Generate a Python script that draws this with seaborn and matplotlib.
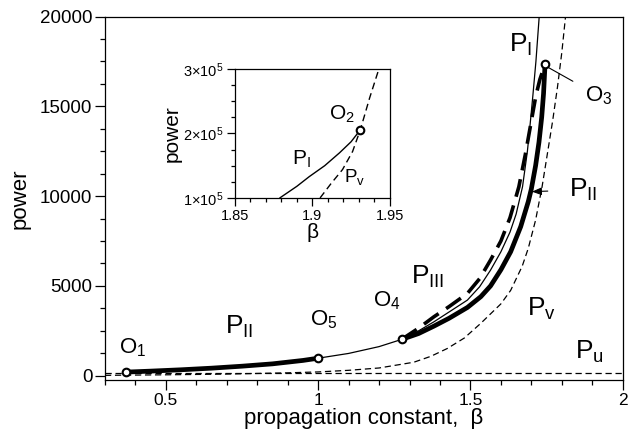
import numpy as np
import pandas as pd
import matplotlib
matplotlib.use('Agg')
import matplotlib.pyplot as plt
from matplotlib.ticker import MultipleLocator, FixedLocator
import seaborn as sns

sns.set_style('ticks')
plt.rcParams['font.family'] = ['Liberation Sans', 'DejaVu Sans']
plt.rcParams['mathtext.fontset'] = 'custom'
plt.rcParams['mathtext.rm'] = 'Liberation Sans'
plt.rcParams['mathtext.it'] = 'Liberation Sans:italic'
for key in ['text.color', 'axes.labelcolor', 'xtick.color', 'ytick.color', 'axes.edgecolor']:
    plt.rcParams[key] = 'black'

# P_I branch (thin solid)
beta_I = [0.368, 0.45, 0.55, 0.65, 0.75, 0.85, 0.95, 1.0, 1.1, 1.2, 1.274, 1.33, 1.38,
          1.43, 1.49, 1.53, 1.566, 1.60, 1.63, 1.65, 1.671, 1.687, 1.696, 1.705, 1.715,
          1.725, 1.728]
power_I = [200, 255, 330, 420, 530, 660, 850, 975, 1240, 1620, 2020, 2500, 3000,
           3550, 4210, 4950, 5880, 6900, 8000, 9000, 10520, 12500, 14000, 15600, 17500,
           19815, 20600]

# P_II thick solid, lower part O1 -> O5
beta_IIa = [0.368, 0.45, 0.55, 0.65, 0.75, 0.85, 0.95, 1.0]
power_IIa = [200, 255, 330, 420, 530, 660, 850, 975]

# P_II thick solid, upper part O4 -> O3
beta_IIb = [1.274, 1.33, 1.38, 1.43, 1.49, 1.534, 1.566, 1.60, 1.632, 1.665, 1.69,
            1.70, 1.714, 1.725, 1.734, 1.740, 1.745]
power_IIb = [2020, 2350, 2760, 3200, 3800, 4400, 5000, 5900, 6900, 8300, 9700,
             10400, 11700, 13000, 14400, 15700, 17350]

# P_III thick dashed O4 -> O3
beta_III = [1.274, 1.33, 1.38, 1.43, 1.49, 1.53, 1.566, 1.60, 1.63, 1.659, 1.68,
            1.698, 1.715, 1.728, 1.738, 1.745]
power_III = [2020, 2650, 3280, 3850, 4580, 5400, 6440, 7500, 8800, 10520, 12300,
             14000, 15600, 16500, 17000, 17350]

# P_v thin dashed
beta_v = [0.3, 0.5, 0.7, 0.9, 1.0, 1.1, 1.2, 1.314, 1.37, 1.424, 1.48, 1.5335, 1.6,
          1.632, 1.67, 1.69, 1.714, 1.735, 1.753, 1.77, 1.786, 1.80, 1.811, 1.815]
power_v = [20, 50, 90, 160, 210, 300, 430, 750, 1080, 1515, 2100, 2910, 4000,
           4750, 6100, 7100, 8670, 10500, 12400, 14200, 16100, 18000, 19800, 20500]

# P_u constant level
beta_u = [0.3, 2.0]
power_u = [130, 130]

# special points O1, O5, O4, O3
beta_O = [0.368, 1.0, 1.274, 1.745]
power_O = [200, 975, 2020, 17350]

# inset curves
beta_in_I = [1.879, 1.89, 1.898, 1.908, 1.9176, 1.925, 1.931]
power_in_I = [1.0e5, 1.18e5, 1.33e5, 1.5e5, 1.70e5, 1.87e5, 2.056e5]
beta_in_v = [1.905, 1.912, 1.9195, 1.926, 1.931, 1.937, 1.943, 1.946]
power_in_v = [1.0e5, 1.22e5, 1.44e5, 1.72e5, 2.056e5, 2.55e5, 3.0e5, 3.2e5]
beta_O2 = [1.931]
power_O2 = [2.056e5]


def df(b, p):
    return pd.DataFrame({'beta': b, 'power': p})


def line(ax, b, p, lw, ls='-'):
    sns.lineplot(data=df(b, p), x='beta', y='power', color='k', lw=lw, linestyle=ls,
                 sort=False, estimator=None, ax=ax)


fig = plt.figure(figsize=(6.4, 4.36), dpi=100)
ax = fig.add_axes([0.164, 0.128, 0.809, 0.834])

line(ax, beta_u, power_u, 0.9, (0, (5, 3)))
line(ax, beta_v, power_v, 0.9, (0, (5, 3)))
line(ax, beta_I, power_I, 0.9)
line(ax, beta_III, power_III, 2.6, (0, (5, 2.5)))
line(ax, beta_IIa, power_IIa, 3.4)
line(ax, beta_IIb, power_IIb, 3.4)
sns.scatterplot(data=df(beta_O, power_O), x='beta', y='power', s=30, color='white',
                edgecolor='k', linewidth=1.5, zorder=5, ax=ax)

ax.set_xlim(0.3, 2.0)
ax.set_ylim(-250, 20000)
ax.xaxis.set_major_locator(FixedLocator([0.5, 1, 1.5, 2]))
ax.xaxis.set_minor_locator(MultipleLocator(0.1))
ax.yaxis.set_major_locator(MultipleLocator(5000))
ax.yaxis.set_minor_locator(MultipleLocator(1250))
ax.set_xticklabels(['0.5', '1', '1.5', '2'])
ax.tick_params(which='major', length=7, width=0.9, labelsize=12.5, direction='out', pad=2)
ax.tick_params(axis='y', which='major', labelsize=13.5)
ax.tick_params(which='minor', length=3.5, width=0.9, direction='out')
for s in ax.spines.values():
    s.set_linewidth(0.9)
ax.set_xlabel('propagation constant,  β', fontsize=16, labelpad=0)
ax.set_ylabel('power', fontsize=16, labelpad=7)

big = dict(fontsize=19, ha='center', va='center')
med = dict(fontsize=16, ha='center', va='center')
ax.text(0.39, 1550, r'O$_{\mathrm{1}}$', **med)
ax.text(1.02, 3100, r'O$_{\mathrm{5}}$', **med)
ax.text(1.225, 4150, r'O$_{\mathrm{4}}$', **med)
ax.text(0.74, 2700, r'P$_{\mathrm{II}}$', **big)
ax.text(1.36, 5500, r'P$_{\mathrm{III}}$', **big)
ax.text(1.735, 3700, r'P$_{\mathrm{v}}$', **big)
ax.text(1.89, 1350, r'P$_{\mathrm{u}}$', **big)
ax.text(1.665, 18400, r'P$_{\mathrm{I}}$', **big)
ax.annotate(r'O$_{\mathrm{3}}$', xy=(1.752, 17200), xytext=(1.92, 15600),
            arrowprops=dict(arrowstyle='-', color='k', lw=0.8, shrinkA=7, shrinkB=0), **med)
ax.annotate(r'P$_{\mathrm{II}}$', xy=(1.702, 10250), xytext=(1.87, 10350),
            arrowprops=dict(arrowstyle='-|>,head_length=0.3,head_width=0.12', color='k',
                            lw=0.8, shrinkA=13, shrinkB=0), **big)

# inset
axin = fig.add_axes([0.367, 0.546, 0.242, 0.296])
line(axin, beta_in_I, power_in_I, 1.0)
line(axin, beta_in_v, power_in_v, 1.0, (0, (5, 3)))
sns.scatterplot(data=df(beta_O2, power_O2), x='beta', y='power', s=30, color='white',
                edgecolor='k', linewidth=1.5, zorder=5, ax=axin, clip_on=False)
axin.set_xlim(1.85, 1.95)
axin.set_ylim(1e5, 3e5)
axin.xaxis.set_major_locator(FixedLocator([1.85, 1.9, 1.95]))
axin.xaxis.set_minor_locator(MultipleLocator(0.01))
axin.yaxis.set_major_locator(FixedLocator([1e5, 2e5, 3e5]))
axin.yaxis.set_minor_locator(MultipleLocator(0.25e5))
axin.set_xticklabels(['1.85', '1.9', '1.95'])
axin.set_yticklabels([r'1$\times$10$^{5}$', r'2$\times$10$^{5}$', r'3$\times$10$^{5}$'])
axin.tick_params(which='major', length=6, width=0.9, labelsize=10.5, direction='out', pad=2)
axin.tick_params(which='minor', length=3, width=0.9, direction='out')
for s in axin.spines.values():
    s.set_linewidth(0.9)
axin.set_xlabel('β', fontsize=15, labelpad=0)
axin.set_ylabel('power', fontsize=15, labelpad=1)
axin.text(1.919, 2.3e5, r'O$_{\mathrm{2}}$', fontsize=15, ha='center', va='center')
axin.text(1.893, 1.6e5, r'P$_{\mathrm{I}}$', fontsize=15, ha='center', va='center')
axin.text(1.927, 1.33e5, r'P$_{\mathrm{v}}$', fontsize=13.5, ha='center', va='center')

fig.savefig('out.png', dpi=100)
